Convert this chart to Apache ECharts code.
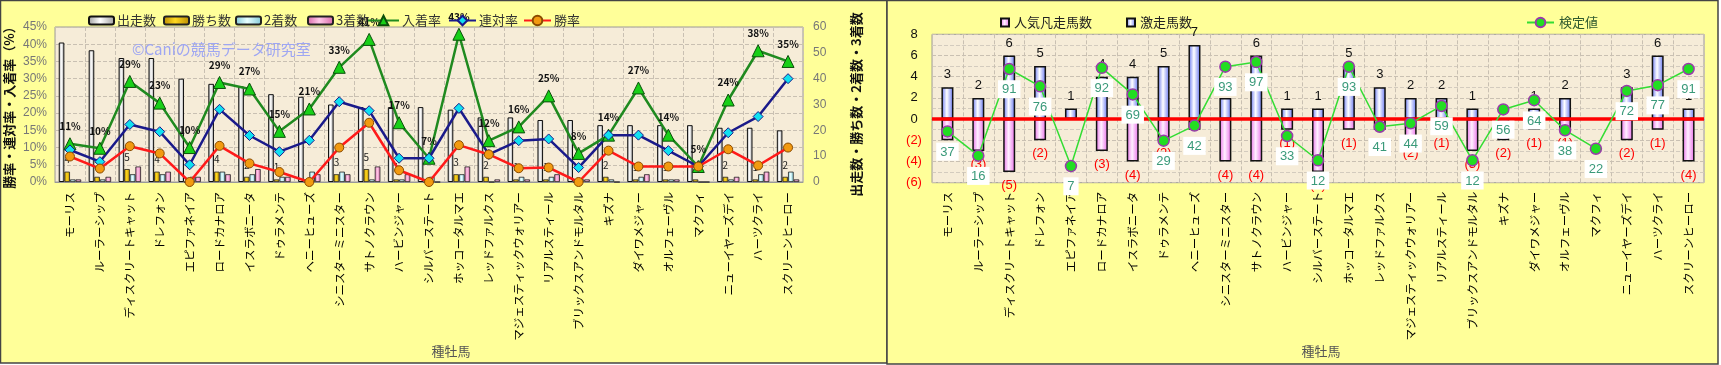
<!DOCTYPE html>
<html><head><meta charset="utf-8">
<script src="https://cdn.jsdelivr.net/npm/echarts@6/dist/echarts.min.js"></script>
<style>html,body{margin:0;padding:0;background:#fff;}#c{width:1721px;height:365px;}</style>
</head><body><div id="c"></div>
<script>
const sires = ['モーリス','ルーラーシップ','ディスクリートキャット','ドレフォン','エピファネイア','ロードカナロア','イスラボニータ','ドゥラメンテ','ヘニーヒューズ','シニスターミニスター','サトノクラウン','ハービンジャー','シルバーステート','ホッコータルマエ','レッドファルクス','マジェスティックウォリアー','リアルスティール','ブリックスアンドモルタル','キズナ','ダイワメジャー','オルフェーヴル','マクフィ','ニューイヤーズデイ','ハーツクライ','スクリーンヒーロー'];
// left chart
const runs    = [54,51,48,48,40,38,37,34,33,30,29,29,29,28,25,25,24,24,22,22,22,22,21,21,20];
const wins    = [4,2,5,4,0,4,2,1,0,3,5,1,0,3,2,1,1,0,2,1,1,1,2,1,2];
const seconds = [1,1,3,3,2,4,3,2,4,4,1,1,2,3,0,2,2,1,1,2,1,0,1,3,4];
const thirds  = [1,2,6,4,2,3,5,2,3,3,6,3,0,6,1,1,3,1,0,3,1,0,2,4,1];
const placeRate    = [11.1,9.8,29.2,22.9,10,28.9,27,14.7,21.2,33.3,41.4,17.2,6.9,42.9,12,16,25,8.3,13.6,27.3,13.6,4.5,23.8,38.1,35];
const quinellaRate = [9.3,5.9,16.7,14.6,5,21.1,13.5,8.8,12.1,23.3,20.7,6.9,6.9,21.4,8,12,12.5,4.2,13.6,13.6,9.1,4.5,14.3,19,30];
const winRate      = [7.4,3.9,10.4,8.3,0,10.5,5.4,2.9,0,10,17.2,3.4,0,10.7,8,4,4.2,0,9.1,4.5,4.5,4.5,9.5,4.8,10];
// right chart
const hotRuns  = [3,2,6,5,1,4,4,5,7,2,6,1,1,5,3,2,2,1,0,1,2,0,3,6,1];
const flopRuns = [-2,-3,-5,-2,0,-3,-4,-2,-1,-4,-4,-1,-5,-1,-1,-2,-1,-3,-2,-1,-1,0,-2,-1,-4];
const scores   = [37,16,91,76,7,92,69,29,42,93,97,33,12,93,41,44,59,12,56,64,38,22,72,77,91];

const FONT = "'Noto Sans CJK JP','Liberation Sans',sans-serif";
function hgrad(edge, mid){
  return new echarts.graphic.LinearGradient(0,0,1,0,[{offset:0,color:edge},{offset:0.45,color:mid},{offset:1,color:edge}]);
}
const gridLine = {show:true, lineStyle:{color:'#C9C0B2', type:'dashed', width:1}};
const catLabel = {rotate:90, interval:0, fontSize:11.5, color:'#000', fontFamily:FONT};

const chart = echarts.init(document.getElementById('c'), null, {renderer:'canvas'});
const lg = (name, left, top, extra) => Object.assign({data:[name], left:left, top:top, itemGap:0, textStyle:{fontSize:13,color:'#333',fontFamily:FONT,padding:[0,0,0,-2]}, selectedMode:false}, extra||{});

chart.setOption({
  animation:false,
  textStyle:{fontFamily:FONT},
  graphic:[
    {type:'rect', shape:{x:0.5,y:0.5,width:886.5,height:362.5}, style:{fill:'#FFFF99',stroke:'#444',lineWidth:1.5}, z:-10},
    {type:'rect', shape:{x:887,y:0.5,width:831,height:363.5}, style:{fill:'#FFFF99',stroke:'#444',lineWidth:1.5}, z:-10},
    {type:'text', left:132, top:42, style:{text:'©Caniの競馬データ研究室', fill:'#9EA6F2', font:"15px 'Noto Sans CJK JP'"}, z:50}
  ],
  legend:[
    lg('出走数',83,9,{itemWidth:25,itemHeight:8}),
    lg('勝ち数',158,9,{itemWidth:25,itemHeight:8}),
    lg('2着数',230,9,{itemWidth:25,itemHeight:8}),
    lg('3着数',302,9,{itemWidth:25,itemHeight:8}),
    lg('入着率',362,9,{itemWidth:31,itemHeight:12}),
    lg('連対率',443,9,{itemWidth:27,itemHeight:12}),
    lg('勝率',518,9,{itemWidth:27,itemHeight:12}),
    lg('人気凡走馬数',995,11,{itemWidth:8,itemHeight:8,icon:'rect',textStyle:{fontSize:13,color:'#222',fontFamily:FONT}}),
    lg('激走馬数',1121,11,{itemWidth:8,itemHeight:8,icon:'rect',textStyle:{fontSize:13,color:'#222',fontFamily:FONT}}),
    lg('検定値',1521,11,{itemWidth:27,itemHeight:12,textStyle:{fontSize:13,color:'#2F5A2F',fontFamily:FONT}})
  ],
  grid:[
    {left:55, top:27, width:748, height:155, show:true, backgroundColor:'#F6ECD8', borderColor:'#9A9A9A', borderWidth:1},
    {left:932, top:34.3, width:772, height:148.4, show:true, backgroundColor:'#F6ECD8', borderColor:'#9A9A9A', borderWidth:1}
  ],
  xAxis:[
    {type:'category', gridIndex:0, data:sires, axisTick:{show:false}, axisLine:{lineStyle:{color:'#999'}},
     axisLabel:Object.assign({margin:10}, catLabel), splitLine:gridLine,
     name:'種牡馬', nameLocation:'middle', nameGap:160, nameTextStyle:{color:'#555',fontSize:13,padding:[0,0,0,44]}},
    {type:'category', gridIndex:1, data:sires, axisTick:{show:false}, axisLine:{lineStyle:{color:'#999'}},
     axisLabel:Object.assign({margin:9}, catLabel), splitLine:gridLine,
     name:'種牡馬', nameLocation:'middle', nameGap:159, nameTextStyle:{color:'#555',fontSize:13,padding:[0,0,0,6]}}
  ],
  yAxis:[
    {type:'value', gridIndex:0, min:0, max:45, interval:5, axisLine:{show:false}, axisTick:{show:false},
     axisLabel:{formatter:'{value}%', color:'#777', fontSize:12, margin:8, fontFamily:'Liberation Sans'}, splitLine:gridLine,
     name:'勝率・連対率・入着率（%）', nameLocation:'middle', nameRotate:90, nameGap:39,
     nameTextStyle:{fontSize:13, fontWeight:'bold', color:'#111'}},
    {type:'value', gridIndex:0, position:'right', min:0, max:60, interval:10, axisLine:{show:false}, axisTick:{show:false},
     axisLabel:{color:'#777', fontSize:12, margin:10, fontFamily:'Liberation Sans'}, splitLine:{show:false},
     name:'出走数・勝ち数・2着数・3着数', nameLocation:'middle', nameRotate:90, nameGap:47,
     nameTextStyle:{fontSize:13, fontWeight:'bold', color:'#111'}},
    {type:'value', gridIndex:1, min:-6, max:8, interval:2, axisLine:{show:false}, axisTick:{show:false},
     axisLabel:{margin:18, align:'center', fontSize:13,
       formatter:v => v < 0 ? '{r|(' + (-v) + ')}' : '{k|' + v + '}',
       rich:{r:{color:'#FF0000',fontSize:13,fontFamily:'Liberation Sans'}, k:{color:'#111',fontSize:13,fontFamily:'Liberation Sans'}}},
     splitLine:gridLine, minorTick:{show:false, splitNumber:2}, minorSplitLine:{show:true, lineStyle:{color:'#D3CBBE', type:'dashed'}}},
    {type:'value', gridIndex:1, min:-7.4, max:121, show:false, splitLine:{show:false}}
  ],
  series:[
    {name:'出走数', type:'bar', xAxisIndex:0, yAxisIndex:1, data:runs, barGap:'0%', barCategoryGap:'25%',
     itemStyle:{color:hgrad('#9C9C9C','#FFFFFF'), borderColor:'#111', borderWidth:1}},
    {name:'勝ち数', type:'bar', xAxisIndex:0, yAxisIndex:1, data:wins,
     itemStyle:{color:hgrad('#B88A00','#FFD820'), borderColor:'#222', borderWidth:0.8},
     label:{show:true, position:'top', distance:7, fontSize:10, color:'#222', formatter:p => p.value > 0 ? p.value : ''}},
    {name:'2着数', type:'bar', xAxisIndex:0, yAxisIndex:1, data:seconds,
     itemStyle:{color:hgrad('#7FC8D8','#E8FFFF'), borderColor:'#222', borderWidth:0.8}},
    {name:'3着数', type:'bar', xAxisIndex:0, yAxisIndex:1, data:thirds,
     itemStyle:{color:hgrad('#D868A8','#FFC8E8'), borderColor:'#222', borderWidth:0.8}},
    {name:'入着率', type:'line', xAxisIndex:0, yAxisIndex:0, data:placeRate, symbol:'triangle', symbolSize:12,
     lineStyle:{color:'#1F8A1F', width:2.5}, itemStyle:{color:'#18D018', borderColor:'#0B4F0B', borderWidth:1},
     label:{show:true, position:'top', distance:6, fontSize:10, fontWeight:'bold', color:'#111', formatter:p => Math.round(p.value) + '%'}},
    {name:'連対率', type:'line', xAxisIndex:0, yAxisIndex:0, data:quinellaRate, symbol:'diamond', symbolSize:10,
     lineStyle:{color:'#1A1A8A', width:2.5}, itemStyle:{color:'#10E0F0', borderColor:'#1A1A8A', borderWidth:1}},
    {name:'勝率', type:'line', xAxisIndex:0, yAxisIndex:0, data:winRate, symbol:'circle', symbolSize:9,
     lineStyle:{color:'#FF1A1A', width:2.5}, itemStyle:{color:'#F29A10', borderColor:'#8A4A00', borderWidth:1}},

    {name:'人気凡走馬数', type:'bar', xAxisIndex:1, yAxisIndex:2, data:flopRuns, barWidth:12, barGap:'-100%',
     itemStyle:{color:hgrad('#E86AE8','#FFF0FF'), borderColor:'#111', borderWidth:1.5},
     label:{show:true, position:'bottom', distance:7, fontSize:13, color:'#FF0000', fontFamily:'Liberation Sans', formatter:p => p.value < 0 ? '(' + (-p.value) + ')' : ''},
     markLine:{silent:true, symbol:'none', label:{show:false}, lineStyle:{color:'#FF0000', width:3.5, type:'solid'}, data:[{yAxis:0}], z:3}},
    {name:'激走馬数', type:'bar', xAxisIndex:1, yAxisIndex:2, data:hotRuns, barWidth:12,
     itemStyle:{color:hgrad('#6070F0','#FFFFFF'), borderColor:'#111', borderWidth:1.5},
     label:{show:true, position:'top', distance:6, fontSize:13, color:'#111', fontFamily:'Liberation Sans', formatter:p => p.value > 0 ? p.value : ''}},
    {name:'検定値', type:'line', xAxisIndex:1, yAxisIndex:3, data:scores, symbol:'circle', symbolSize:11, z:5,
     lineStyle:{color:'#33DD33', width:1.5}, itemStyle:{color:'#22DD22', borderColor:'#9A3AAA', borderWidth:1.5},
     label:{show:true, position:'bottom', distance:5, fontSize:13, color:'#3A9A7A', fontFamily:'Liberation Sans',
       backgroundColor:'#FFFFFF', padding:[3,4,2,4]}}
  ]
});
</script></body></html>
